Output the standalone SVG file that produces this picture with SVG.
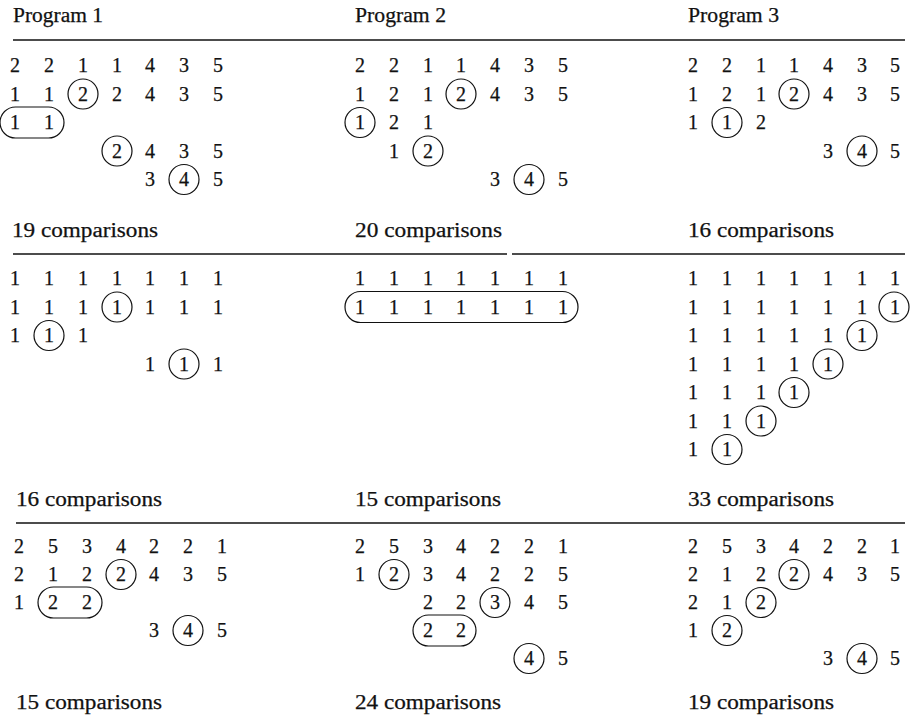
<svg xmlns="http://www.w3.org/2000/svg" width="910" height="724" viewBox="0 0 910 724">
<style>
.bg{fill:#fff}
.t{font-family:"Liberation Serif","Times New Roman",serif;font-size:20px;fill:#111;stroke:#111;stroke-width:0.25}
.d{font-family:"Liberation Serif","Times New Roman",serif;font-size:20px;fill:#111;stroke:#111;stroke-width:0.25;text-anchor:middle}
.c{fill:none;stroke:#111;stroke-width:1.2}
.r{stroke:#111;stroke-width:1.6}
</style>
<rect class="bg" x="0" y="0" width="910" height="724"/>
<g id="rules">
<line class="r" x1="13" y1="40" x2="905" y2="40"/>
<line class="r" x1="13" y1="254" x2="507" y2="254"/>
<line class="r" x1="512" y1="254" x2="905" y2="254"/>
<line class="r" x1="16" y1="523" x2="905" y2="523"/>
</g>
<g id="titles">
<text class="t" x="13" y="22" textLength="90" lengthAdjust="spacingAndGlyphs">Program 1</text>
<text class="t" x="355" y="22" textLength="91" lengthAdjust="spacingAndGlyphs">Program 2</text>
<text class="t" x="688" y="22" textLength="91" lengthAdjust="spacingAndGlyphs">Program 3</text>
</g>
<g id="p1-b1">
<text class="d" x="15 49 83 117 150 184 218" y="72">2211435</text>
<text class="d" x="15 49 83 117 150 184 218" y="100.5">1122435</text>
<circle class="c" cx="83" cy="94" r="15"/>
<text class="d" x="15 49" y="129">11</text>
<rect class="c" x="0" y="107" width="64" height="31" rx="15.5"/>
<text class="d" x="117 150 184 218" y="157.5">2435</text>
<circle class="c" cx="117" cy="151" r="15"/>
<text class="d" x="150 184 218" y="186">345</text>
<circle class="c" cx="184" cy="179.5" r="15"/>
<text class="t" x="12" y="237" textLength="146" lengthAdjust="spacingAndGlyphs">19 comparisons</text>
</g>
<g id="p2-b1">
<text class="d" x="360 394 428 461 495 529 563" y="72">2211435</text>
<text class="d" x="360 394 428 461 495 529 563" y="100.5">1212435</text>
<circle class="c" cx="461" cy="94" r="15"/>
<text class="d" x="360 394 428" y="129">121</text>
<circle class="c" cx="360" cy="122.5" r="15"/>
<text class="d" x="394 428" y="157.5">12</text>
<circle class="c" cx="428" cy="151" r="15"/>
<text class="d" x="495 529 563" y="186">345</text>
<circle class="c" cx="529" cy="179.5" r="15"/>
<text class="t" x="355" y="237" textLength="147" lengthAdjust="spacingAndGlyphs">20 comparisons</text>
</g>
<g id="p3-b1">
<text class="d" x="693 727 761 794 828 862 895" y="72">2211435</text>
<text class="d" x="693 727 761 794 828 862 895" y="100.5">1212435</text>
<circle class="c" cx="794" cy="94" r="15"/>
<text class="d" x="693 727 761" y="129">112</text>
<circle class="c" cx="727" cy="122.5" r="15"/>
<text class="d" x="828 862 895" y="157.5">345</text>
<circle class="c" cx="862" cy="151" r="15"/>
<text class="t" x="688" y="237" textLength="146" lengthAdjust="spacingAndGlyphs">16 comparisons</text>
</g>
<g id="p1-b2">
<text class="d" x="15 49 83 117 150 184 218" y="285">1111111</text>
<text class="d" x="15 49 83 117 150 184 218" y="313.5">1111111</text>
<circle class="c" cx="117" cy="307" r="15"/>
<text class="d" x="15 49 83" y="342">111</text>
<circle class="c" cx="49" cy="335.5" r="15"/>
<text class="d" x="150 184 218" y="370.5">111</text>
<circle class="c" cx="184" cy="364" r="15"/>
<text class="t" x="16" y="506" textLength="146" lengthAdjust="spacingAndGlyphs">16 comparisons</text>
</g>
<g id="p2-b2">
<text class="d" x="360 394 428 461 495 529 563" y="285">1111111</text>
<text class="d" x="360 394 428 461 495 529 563" y="313.5">1111111</text>
<rect class="c" x="345" y="291.5" width="233" height="31" rx="15.5"/>
<text class="t" x="355" y="506" textLength="146" lengthAdjust="spacingAndGlyphs">15 comparisons</text>
</g>
<g id="p3-b2">
<text class="d" x="693 727 761 794 828 862 895" y="285">1111111</text>
<text class="d" x="693 727 761 794 828 862 895" y="313.5">1111111</text>
<circle class="c" cx="894" cy="307" r="15"/>
<text class="d" x="693 727 761 794 828 862" y="342">111111</text>
<circle class="c" cx="862" cy="335.5" r="15"/>
<text class="d" x="693 727 761 794 828" y="370.5">11111</text>
<circle class="c" cx="828" cy="364" r="15"/>
<text class="d" x="693 727 761 794" y="399">1111</text>
<circle class="c" cx="794" cy="392.5" r="15"/>
<text class="d" x="693 727 761" y="427.5">111</text>
<circle class="c" cx="761" cy="421" r="15"/>
<text class="d" x="693 727" y="456">11</text>
<circle class="c" cx="727" cy="449.5" r="15"/>
<text class="t" x="688" y="506" textLength="146" lengthAdjust="spacingAndGlyphs">33 comparisons</text>
</g>
<g id="p1-b3">
<text class="d" x="19 53 87 121 154 188 222" y="553">2534221</text>
<text class="d" x="19 53 87 121 154 188 222" y="581">2122435</text>
<circle class="c" cx="121" cy="574.5" r="15"/>
<text class="d" x="19 53 87" y="609">122</text>
<rect class="c" x="38" y="587" width="64" height="31" rx="15.5"/>
<text class="d" x="154 188 222" y="637">345</text>
<circle class="c" cx="188" cy="630.5" r="15"/>
<text class="t" x="16" y="709" textLength="146" lengthAdjust="spacingAndGlyphs">15 comparisons</text>
</g>
<g id="p2-b3">
<text class="d" x="360 394 428 461 495 529 563" y="553">2534221</text>
<text class="d" x="360 394 428 461 495 529 563" y="581">1234225</text>
<circle class="c" cx="394" cy="574.5" r="15"/>
<text class="d" x="428 461 495 529 563" y="609">22345</text>
<circle class="c" cx="495" cy="602.5" r="15"/>
<text class="d" x="428 461" y="637">22</text>
<rect class="c" x="413" y="615" width="63" height="31" rx="15.5"/>
<text class="d" x="529 563" y="665">45</text>
<circle class="c" cx="529" cy="658.5" r="15"/>
<text class="t" x="355" y="709" textLength="146" lengthAdjust="spacingAndGlyphs">24 comparisons</text>
</g>
<g id="p3-b3">
<text class="d" x="693 727 761 794 828 862 895" y="553">2534221</text>
<text class="d" x="693 727 761 794 828 862 895" y="581">2122435</text>
<circle class="c" cx="794" cy="574.5" r="15"/>
<text class="d" x="693 727 761" y="609">212</text>
<circle class="c" cx="761" cy="602.5" r="15"/>
<text class="d" x="693 727" y="637">12</text>
<circle class="c" cx="727" cy="630.5" r="15"/>
<text class="d" x="828 862 895" y="665">345</text>
<circle class="c" cx="862" cy="658.5" r="15"/>
<text class="t" x="688" y="709" textLength="146" lengthAdjust="spacingAndGlyphs">19 comparisons</text>
</g>
<g id="connectors"></g>
</svg>
